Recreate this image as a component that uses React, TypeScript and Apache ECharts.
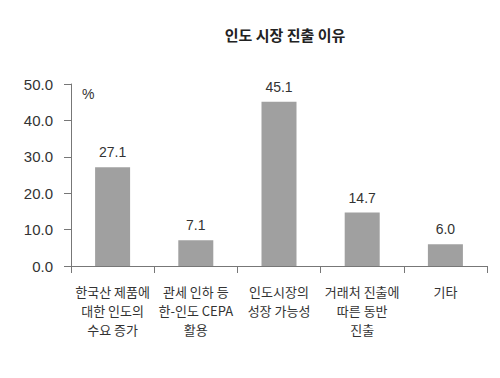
import React, { useEffect, useRef } from "react";
import * as echarts from "echarts";

const titleText = "인도 시장 진출 이유";
const categories = [
  "한국산 제품에\n대한 인도의\n수요 증가",
  "관세 인하 등\n한-인도 CEPA\n활용",
  "인도시장의\n성장 가능성",
  "거래처 진출에\n따른 동반\n진출",
  "기타",
];
const values = [27.1, 7.1, 45.1, 14.7, 6.0];
const unitLabel = "%";

const KR = "'Noto Sans CJK KR', 'Noto Sans', sans-serif";
const NUM = "'Liberation Sans', Arial, 'Noto Sans CJK KR', sans-serif";

export default function App() {
  const ref = useRef<HTMLDivElement>(null);
  useEffect(() => {
    if (!ref.current) return;
    const chart = echarts.init(ref.current, undefined, { renderer: "svg" });
    chart.setOption({
      animation: false,
      backgroundColor: "#ffffff",
      title: {
        text: titleText,
        left: 280,
        textAlign: "center",
        top: 22,
        textStyle: { fontFamily: KR, fontSize: 15, fontWeight: "bold", color: "#222" },
      },
      graphic: [
        {
          type: "text",
          left: 82,
          top: 87,
          style: { text: unitLabel, fontFamily: NUM, fontSize: 14, fill: "#333" },
        },
      ],
      grid: { left: 71, right: 13, top: 84, bottom: 112 },
      xAxis: {
        type: "category",
        data: categories,
        axisLine: { lineStyle: { color: "#777", width: 1 } },
        axisTick: { show: true, length: 7, lineStyle: { color: "#777" } },
        axisLabel: {
          interval: 0,
          margin: 16,
          fontFamily: KR,
          fontSize: 13,
          lineHeight: 19,
          color: "#333",
        },
      },
      yAxis: {
        type: "value",
        min: 0,
        max: 50,
        interval: 10,
        splitLine: { show: false },
        axisLine: { show: true, lineStyle: { color: "#777", width: 1 } },
        axisTick: { show: true, length: 7, lineStyle: { color: "#777" } },
        axisLabel: {
          margin: 18,
          fontFamily: NUM,
          fontSize: 15,
          color: "#333",
          formatter: (v: number) => v.toFixed(1),
        },
      },
      series: [
        {
          type: "bar",
          data: values,
          barWidth: 35,
          itemStyle: { color: "#a0a0a0" },
          label: {
            show: true,
            position: "top",
            distance: 8,
            fontFamily: NUM,
            fontSize: 14,
            color: "#333",
            formatter: (p: any) => Number(p.value).toFixed(1),
          },
        },
      ],
    });
    return () => chart.dispose();
  }, []);
  return <div ref={ref} style={{ width: 500, height: 378, position: "absolute", left: 0, top: 0 }} />;
}
